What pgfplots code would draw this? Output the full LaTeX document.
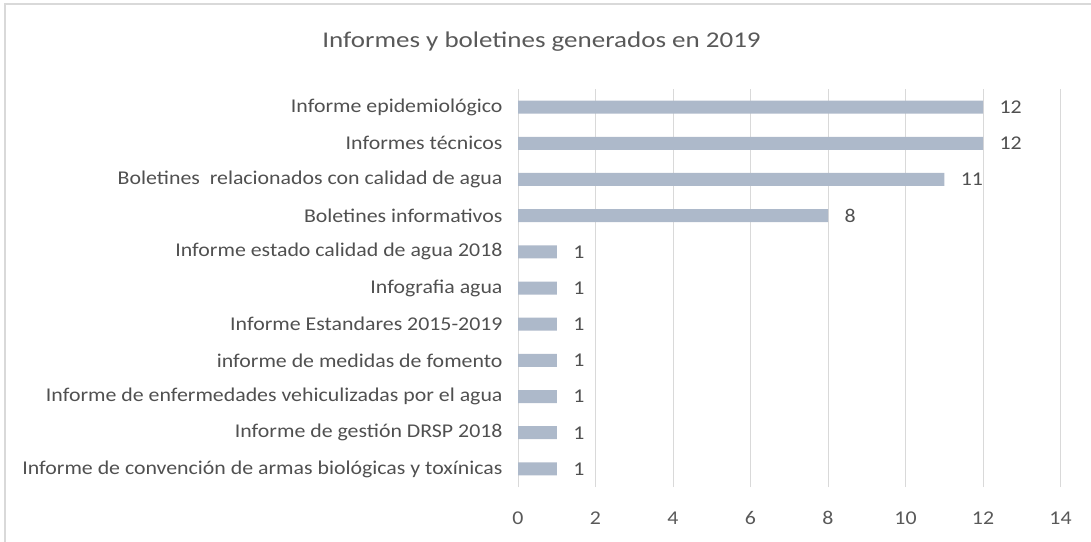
\documentclass[border=0pt]{standalone}
\usepackage{pgfplots}
\pgfplotsset{compat=1.18}
\usepackage{fontspec}
\setmainfont{Carlito}
\newfontfamily\lblfont[FakeStretch=1.12]{Carlito}
\newfontfamily\ttlfont[FakeStretch=1.2]{Carlito}
\definecolor{barc}{HTML}{ADB9CA}
\definecolor{gridc}{HTML}{D9D9D9}
\definecolor{txt}{HTML}{595959}
\definecolor{lbl}{HTML}{505050}
\begin{document}
\begin{tikzpicture}[x=1bp,y=1bp]
\path[use as bounding box] (0,0) rectangle (1091,-542);
\draw[gridc,line width=1.2bp] (5,-542) -- (5,-4) -- (1091,-4);
\node[txt,font=\ttlfont\fontsize{22.5bp}{26bp}\selectfont] at (541.5,-42) {Informes y boletines generados en 2019};
\begin{axis}[
  at={(518bp,-89bp)}, anchor=north west,
  scale only axis, width=542.5bp, height=398bp,
  xmin=0, xmax=14, ymin=-0.5, ymax=10.5,
  xtick={0,2,...,14},
  ytick={0,...,10},
  yticklabels={
    Informe de convención de armas biológicas y toxínicas,
    Informe de gestión DRSP 2018,
    Informe de enfermedades vehiculizadas por el agua,
    informe de medidas de fomento,
    Informe Estandares 2015-2019,
    Infografia agua,
    Informe estado calidad de agua 2018,
    Boletines informativos\hspace{3bp},
    Boletines\ \ relacionados con calidad de agua\hspace{6bp},
    Informes técnicos\hspace{9bp},
    Informe epidemiológico\hspace{21bp}},
  axis line style={draw=none},
  xmajorgrids, grid style={gridc,line width=1bp},
  major tick length=0pt,
  tick label style={font=\lblfont\fontsize{19.5bp}{22bp}\selectfont, text=lbl},
  xticklabel style={anchor=base, yshift=-37bp, text=txt},
  yticklabel style={xshift=-12bp},
  /pgf/number format/assume math mode=true,
  clip=false,
]
\addplot[xbar, bar width=13bp, fill=barc, draw=none,
  nodes near coords, every node near coord/.append style={anchor=west, xshift=13bp, text=lbl, font=\lblfont\fontsize{19.5bp}{22bp}\selectfont},
  nodes near coords style={/pgf/number format/assume math mode=true}]
  coordinates {(1,0) (1,1) (1,2) (1,3) (1,4) (1,5) (1,6) (8,7) (11,8) (12,9) (12,10)};
\end{axis}
\end{tikzpicture}
\end{document}
